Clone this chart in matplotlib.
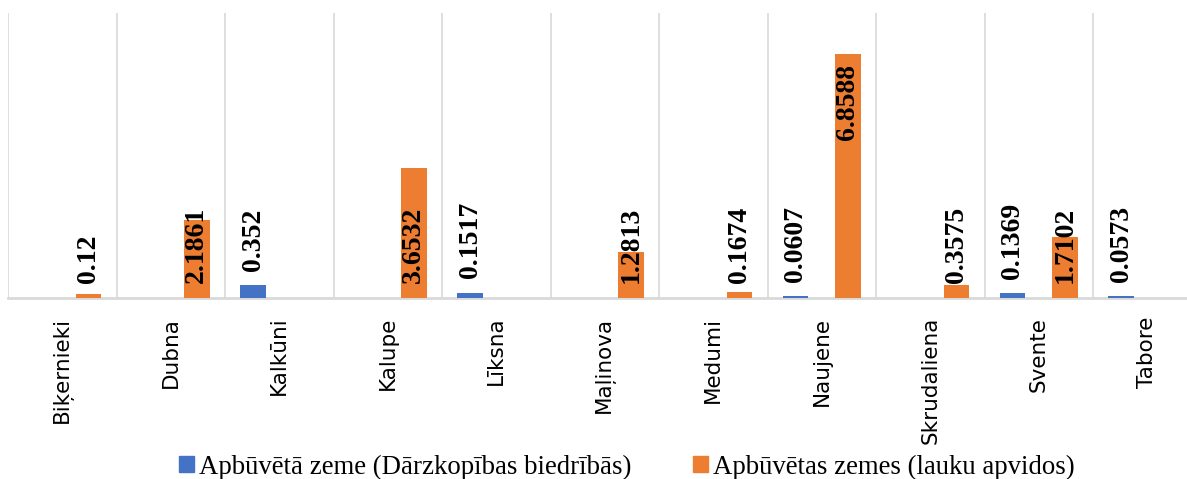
import numpy as np
import matplotlib
matplotlib.use("Agg")
import matplotlib.pyplot as plt
from matplotlib.patches import Patch

# data
places = ["Biķernieki", "Dubna", "Kalkūni", "Kalupe", "Līksna", "Maļinova",
          "Medumi", "Naujene", "Skrudaliena", "Svente", "Tabore"]
gardens = [0, 0, 0.352, 0, 0.1517, 0, 0, 0.0607, 0, 0.1369, 0.0573]
rural = [0.12, 2.1861, 0, 3.6532, 0, 1.2813, 0.1674, 6.8588, 0.3575, 1.7102, 0]
series_names = ["Apbūvētā zeme (Dārzkopības biedrībās)",
                "Apbūvētas zemes (lauku apvidos)"]

BLUE = "#4472C4"
ORANGE = "#ED7D31"
GRID = "#D9D9D9"

fig = plt.figure(figsize=(11.87, 4.79), dpi=100)
# plot area runs past the right edge (the source image is cropped)
ax = fig.add_axes([8 / 1187, 1 - 298 / 479, 11 * 108.5 / 1187, 285 / 479])

x = np.arange(len(places))
w = 0.235
off = 0.24
ax.bar(x - off, gardens, w, color=BLUE, zorder=3)
ax.bar(x + off, rural, w, color=ORANGE, zorder=3)

ax.set_xlim(-0.5, len(places) - 0.5)
ax.set_ylim(0, 8)

# vertical gridlines between categories
for b in np.arange(-0.5, len(places), 1.0):
    ax.axvline(b, color=GRID, lw=1.2, zorder=1)

for s in ["top", "right", "left"]:
    ax.spines[s].set_visible(False)
ax.spines["bottom"].set_color(GRID)
ax.spines["bottom"].set_linewidth(2)
ax.set_yticks([])
ax.tick_params(axis="x", length=0, pad=13.5)
ax.set_xticks(x)
ax.set_xticklabels(places, rotation=90, fontsize=15.5, family="DejaVu Sans",
                   va="top", ha="center")

lab_kw = dict(rotation=90, ha="center", fontsize=20, fontweight="bold",
              family="Liberation Serif", zorder=4)
for i, v in enumerate(gardens):
    if v > 0:
        ax.text(x[i] - off, v + 0.4, f"{v:g}", va="bottom", **lab_kw)
for i, v in enumerate(rural):
    if v > 5:
        ax.text(x[i] + off, v - 0.3, f"{v:g}", va="top", **lab_kw)
    elif v > 0:
        ax.text(x[i] + off, 0.42, f"{v:g}", va="bottom", **lab_kw)

handles = [Patch(color=BLUE), Patch(color=ORANGE)]
fig.legend(handles, series_names, loc="center", bbox_to_anchor=(0.528, 1 - 467 / 479),
           ncol=2, frameon=False, prop={"family": "Liberation Serif", "size": 19.3},
           handlelength=0.55, handleheight=0.55, handletextpad=0.2, columnspacing=2.3)

fig.savefig("out.png", dpi=100)
